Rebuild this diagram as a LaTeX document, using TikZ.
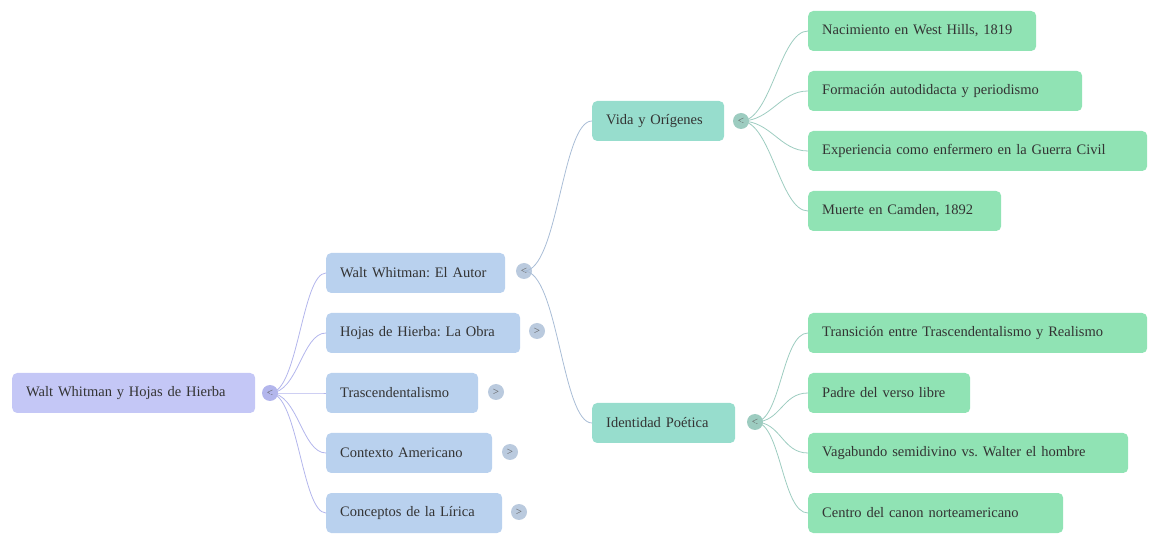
\documentclass[tikz,border=0pt]{standalone}
\usepackage{fontspec}
\setmainfont{Liberation Serif}
\usepackage{tikz}
\usetikzlibrary{positioning}
\definecolor{rootfill}{HTML}{C4C7F6}
\definecolor{rootline}{HTML}{B3B6EC}
\definecolor{bluefill}{HTML}{B9D1EE}
\definecolor{blueline}{HTML}{A9BDD6}
\definecolor{tealfill}{HTML}{97DDCD}
\definecolor{tealline}{HTML}{9DCCC0}
\definecolor{mintfill}{HTML}{90E3B4}
\definecolor{ink}{HTML}{333333}
\frenchspacing

\begin{document}
\begin{tikzpicture}[x=1pt,y=-1pt,
  box/.style={rounded corners=5pt,minimum height=40pt,inner xsep=14pt,
    anchor=west,text width=#1,align=left,text=ink,
    font=\fontsize{14.5}{17}\selectfont},
  toggle/.style={circle,minimum size=16pt,inner sep=0pt,text=ink!80,
    font=\fontsize{11}{11}\selectfont},
  link/.style={line width=.8pt}]
  \useasboundingbox (0,0) rectangle (1149,534);

  % root
  \node[box=215,fill=rootfill] (root) at (12,393) {Walt Whitman y Hojas de Hierba};
  \node[toggle,fill=rootline] (troot) at (270,393) {<};

  % first level
  \node[box=151,fill=bluefill] (autor) at (326,273) {Walt Whitman: El Autor};
  \node[box=166,fill=bluefill] (obra) at (326,333) {Hojas de Hierba: La Obra};
  \node[box=124,fill=bluefill] (trasc) at (326,393) {Trascendentalismo};
  \node[box=138,fill=bluefill] (contexto) at (326,453) {Contexto Americano};
  \node[box=148,fill=bluefill] (conceptos) at (326,513) {Conceptos de la Lírica};
  \node[toggle,fill=blueline!80] (tautor) at (524,271) {<};
  \node[toggle,fill=blueline!80] (tobra) at (537,331) {>};
  \node[toggle,fill=blueline!80] (ttrasc) at (496,392) {>};
  \node[toggle,fill=blueline!80] (tcontexto) at (510,452) {>};
  \node[toggle,fill=blueline!80] (tconceptos) at (519,512) {>};

  \foreach \n in {autor,obra,trasc,contexto,conceptos}
    \draw[rootline,link] (troot.center) .. controls +(28,0) and +(-24,0) .. (\n.west);

  % second level
  \node[box=104,fill=tealfill] (vida) at (592,121) {Vida y Orígenes};
  \node[box=115,fill=tealfill] (ident) at (592,423) {Identidad Poética};
  \node[toggle,fill=tealline] (tvida) at (741,121) {<};
  \node[toggle,fill=tealline] (tident) at (755,422) {<};

  \draw[blueline,link] (tautor.center) .. controls +(34,0) and +(-30,0) .. (vida.west);
  \draw[blueline,link] (tautor.center) .. controls +(34,0) and +(-30,0) .. (ident.west);

  % third level
  \node[box=200,fill=mintfill] (nac) at (808,31) {Nacimiento en West Hills, 1819};
  \node[box=246,fill=mintfill] (form) at (808,91) {Formación autodidacta y periodismo};
  \node[box=311,fill=mintfill] (exper) at (808,151) {Experiencia como enfermero en la Guerra Civil};
  \node[box=165,fill=mintfill] (muerte) at (808,211) {Muerte en Camden, 1892};
  \node[box=311,fill=mintfill] (trans) at (808,333) {Transición entre Trascendentalismo y Realismo};
  \node[box=134,fill=mintfill] (padre) at (808,393) {Padre del verso libre};
  \node[box=292,fill=mintfill] (vaga) at (808,453) {Vagabundo semidivino vs. Walter el hombre};
  \node[box=227,fill=mintfill] (centro) at (808,513) {Centro del canon norteamericano};

  \foreach \n in {nac,form,exper,muerte}
    \draw[tealline,link] (tvida.center) .. controls +(30,0) and +(-28,0) .. (\n.west);
  \foreach \n in {trans,padre,vaga,centro}
    \draw[tealline,link] (tident.center) .. controls +(26,0) and +(-26,0) .. (\n.west);
\end{tikzpicture}
\end{document}
